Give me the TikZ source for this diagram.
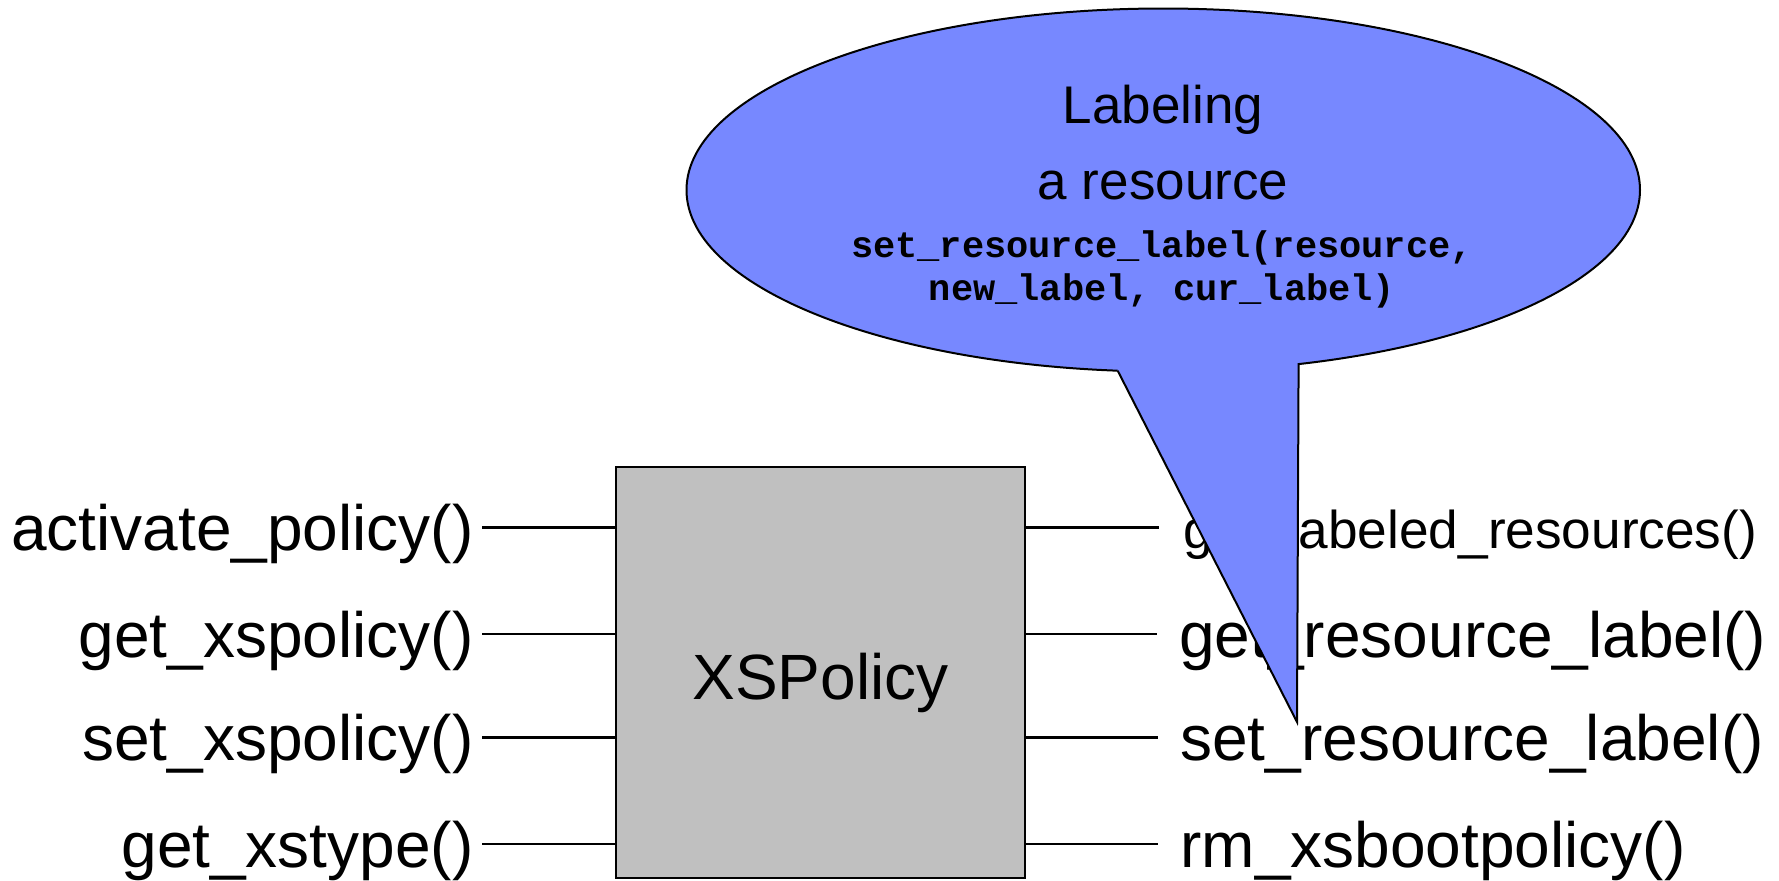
\documentclass[tikz,border=0pt]{standalone}
\usepackage{fontspec}
\setmainfont{Liberation Sans}
\setmonofont{Liberation Mono}
\usetikzlibrary{shapes.geometric}
\definecolor{bubblefill}{RGB}{119,136,255}
\definecolor{boxfill}{RGB}{192,192,192}
\tikzset{
  wire/.style={draw=black, line width=1.1pt},
  fnlabel/.style={inner sep=0pt, font=\fontsize{32}{38}\selectfont},
  smalllabel/.style={inner sep=0pt, font=\fontsize{26.6}{32}\selectfont},
  bubbletext/.style={inner sep=0pt, font=\fontsize{26.5}{32}\selectfont},
  codetext/.style={inner sep=0pt, font=\fontsize{18.5}{22}\selectfont\ttfamily\bfseries},
  component/.style={draw=black, line width=1pt, fill=boxfill, minimum width=204.5pt, minimum height=205.5pt, inner sep=0pt},
  bubble/.style={ellipse, draw=black, line width=1pt, fill=bubblefill, minimum width=476.75pt, minimum height=181.5pt, inner sep=0pt},
}
\begin{document}
\begin{tikzpicture}[x=0.5pt, y=-0.5pt]
\useasboundingbox (0,0) rectangle (1779,880);

% component box
\node[component] (box) at (820.5,672.5) {};
\node[fnlabel, anchor=base] (boxlbl) at (820.5,699) {XSPolicy};

% rows
\coordinate (r1) at (0,527.5);
\coordinate (r2) at (0,634);
\coordinate (r3) at (0,737.5);
\coordinate (r4) at (0,844);

% left labels
\node[fnlabel, anchor=base east] (l1) at (474,550.5) {activate\_policy()};
\node[fnlabel, anchor=base east] (l2) at (474,657) {get\_xspolicy()};
\node[fnlabel, anchor=base east] (l3) at (474,760.5) {set\_xspolicy()};
\node[fnlabel, anchor=base east] (l4) at (474,867) {get\_xstype()};

% right labels
\node[smalllabel, anchor=base west] (g1) at (1183,548) {get\_labeled\_resources()};
\node[fnlabel, anchor=base west] (g2) at (1179,657) {get\_resource\_label()};
\node[fnlabel, anchor=base west] (g3) at (1180,760.5) {set\_resource\_label()};
\node[fnlabel, anchor=base west] (g4) at (1180,867) {rm\_xsbootpolicy()};

% wires
\foreach \i in {1,2,3,4} {
  \draw[wire] ([xshift=4pt]l\i.base east |- r\i) -- (box.west |- r\i);
}
\draw[wire] (box.east |- r1) -- ([xshift=-12pt]g1.base west |- r1);
\foreach \i in {2,3,4} {
  \draw[wire] (box.east |- r\i) -- ([xshift=-11pt]g\i.base west |- r\i);
}

% callout bubble
\node[bubble] (bubble) at (1163.25,190) {};
\coordinate (tailL) at (1117.7,370.7);
\coordinate (tailR) at (1298.6,363);
\coordinate (tailTip) at (1297,722);
\fill[bubblefill] (tailL) -- (tailTip) -- (tailR) -- ([yshift=12pt]tailR) -- ([yshift=12pt]tailL) -- cycle;
\draw[line width=1pt, line join=miter] (tailL) -- (tailTip) -- (tailR);

% bubble text
\node[bubbletext, anchor=base] (t1) at (1163,123) {Labeling};
\node[bubbletext, anchor=base] (t2) at (1163,199) {a resource};
\node[codetext, anchor=base] (c1) at (1162,257) {set\_resource\_label(resource,};
\node[codetext, anchor=base] (c2) at (1162,300) {new\_label, cur\_label)};
\end{tikzpicture}
\end{document}
